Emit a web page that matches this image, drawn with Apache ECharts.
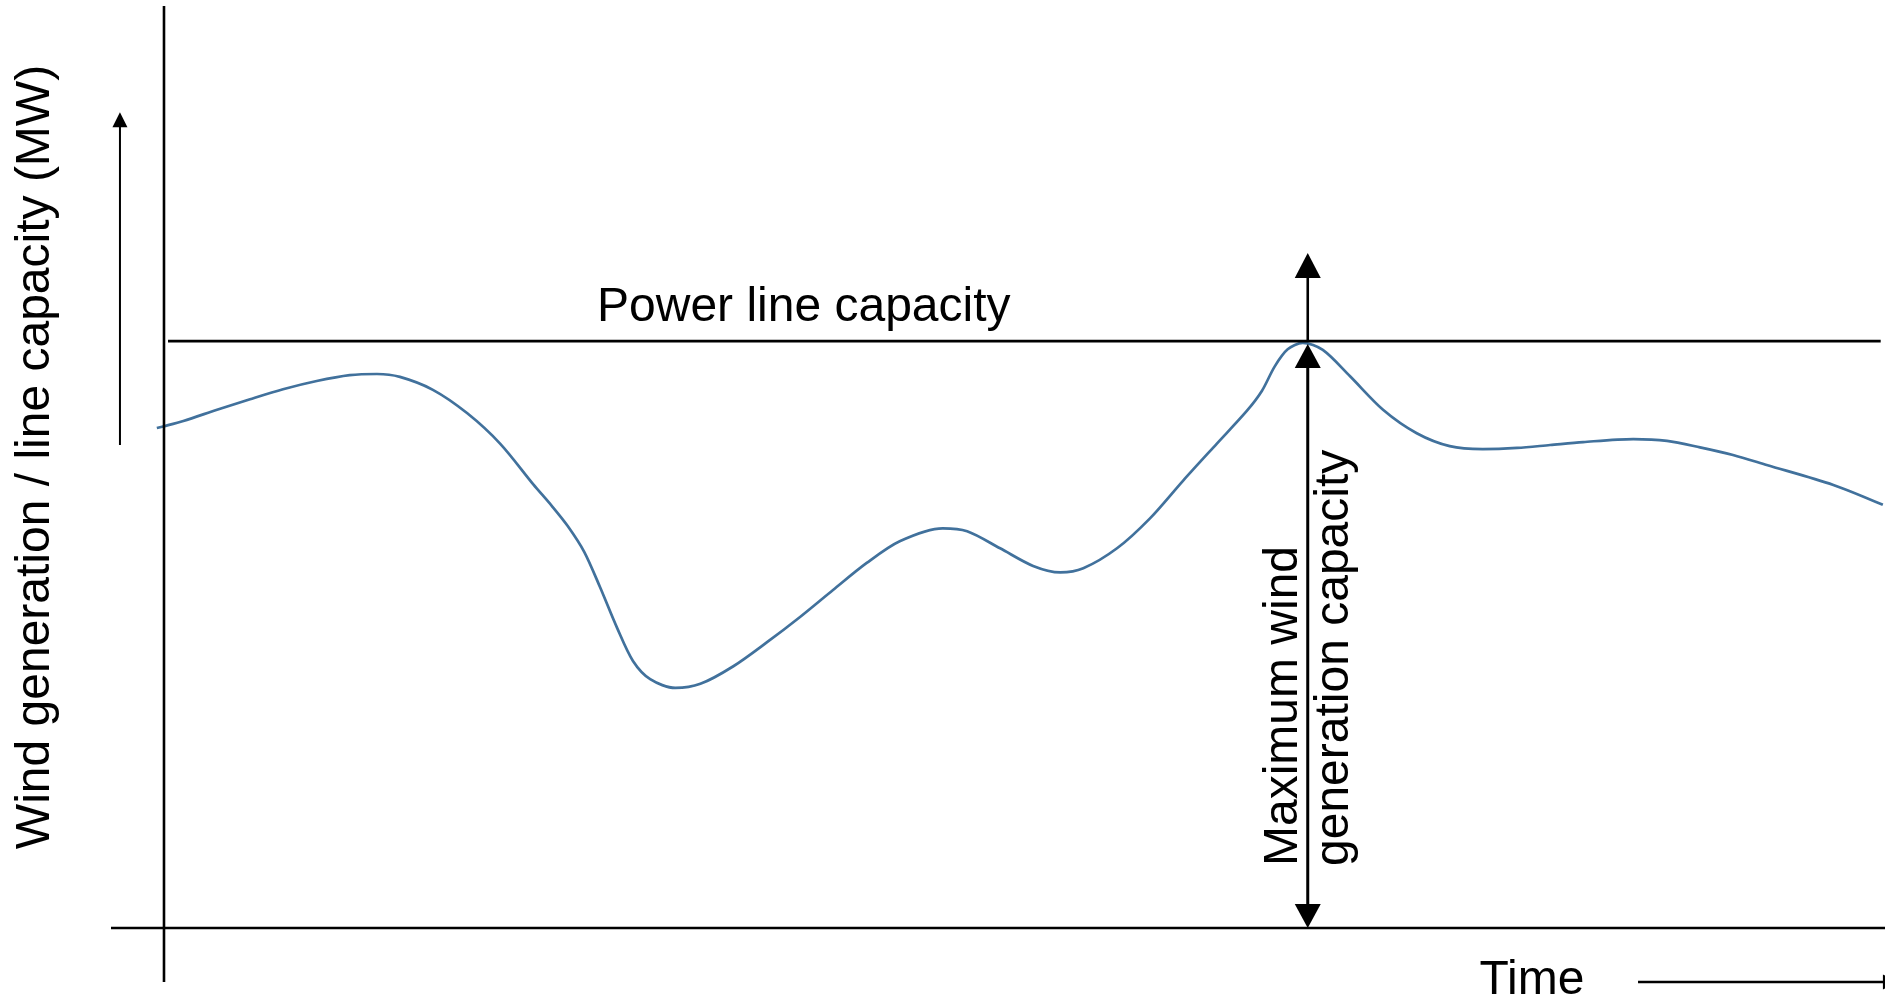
<!DOCTYPE html>
<html>
<head>
<meta charset="utf-8">
<script src="https://cdn.jsdelivr.net/npm/echarts@6/dist/echarts.min.js"></script>
<style>
html, body { margin: 0; padding: 0; background: #fff; }
#chart { width: 1885px; height: 1006px; }
</style>
</head>
<body>
<div id="chart"></div>
<script>
// ---- data (time in hours, power in MW) ----
const timeH = [-0.10, 0, 0.27, 0.74, 1.20, 1.66, 2.13, 2.59, 2.97, 3.29,
  3.75, 4.23, 4.69, 5.15, 5.41, 5.63, 5.86, 6.08, 6.32, 6.54,
  6.78, 7.13, 7.48, 7.94, 8.41, 8.87, 9.33, 9.80, 10.26, 10.86,
  11.20, 11.66, 12.12, 12.50, 12.82, 13.29, 13.75, 14.21, 14.68, 15.10,
  15.31, 15.49, 15.67, 15.88, 16.16, 16.54, 17.00, 17.47, 17.93, 18.39,
  18.87, 19.33, 19.79, 20.49, 20.96, 21.42, 21.88, 22.35, 23.28, 23.97];
const windMW = [85.2, 85.5, 86.4, 88.3, 90.1, 91.8, 93.2, 94.2, 94.4, 93.9,
  91.7, 87.7, 82.5, 75.6, 71.9, 68.5, 64.1, 58.1, 51.1, 45.5,
  42.4, 40.9, 41.6, 44.6, 48.7, 53.0, 57.6, 62.2, 65.9, 68.1,
  67.6, 64.7, 61.7, 60.6, 61.3, 64.7, 69.8, 76.2, 82.5, 88.1,
  91.5, 95.7, 98.6, 99.7, 98.5, 94.0, 88.3, 84.3, 82.1, 81.6,
  81.8, 82.3, 82.8, 83.3, 83.0, 81.9, 80.6, 78.9, 75.5, 72.1];
const lineCapacityMW = 100;
const peakTimeH = 15.95;

// ---- axis extents ----
const X_MIN = -0.739, X_MAX = 24.0;
const Y_MIN = -9.2, Y_MAX = 157.1;

// ---- annotation segments in data space ----
const segments = [
  // plain lines
  { from: [0, Y_MIN], to: [0, Y_MAX], head: 'none', lw: 2.6 },                 // vertical axis
  { from: [X_MIN, 0], to: [X_MAX, 0], head: 'none', lw: 2.6 },                 // zero line
  { from: [0.056, lineCapacityMW], to: [23.94, lineCapacityMW], head: 'none', lw: 2.6 }, // capacity
  // arrows
  { from: [-0.614, 82.3], to: [-0.614, 139.0], head: 'end', hw: 15, hl: 15, lw: 2 },
  { from: [peakTimeH, lineCapacityMW], to: [peakTimeH, 115.0], head: 'end', hw: 26, hl: 25, lw: 2.6 },
  { from: [peakTimeH, 0], to: [peakTimeH, 99.5], head: 'both', hw: 26, hl: 24, lw: 3 },
  { from: [20.556, Y_MIN], to: [24.18, Y_MIN], head: 'end', hw: 15, hl: 15, lw: 2.4 }
];

const FONT = '"Liberation Sans", Arial, Helvetica, sans-serif';
const FS = 48;

const chart = echarts.init(document.getElementById('chart'), null, { renderer: 'canvas' });

function txt(text, x, y, rot, align, valign) {
  return {
    type: 'text', x: x, y: y, rotation: rot, z: 100,
    style: {
      text: text, fontSize: FS, fontFamily: FONT, fill: '#000',
      align: align, textAlign: align, verticalAlign: valign, textVerticalAlign: valign
    }
  };
}

chart.setOption({
  animation: false,
  backgroundColor: '#fff',
  grid: { left: 111, right: 0, top: 6, bottom: 24 },
  xAxis: { type: 'value', min: X_MIN, max: X_MAX, show: false },
  yAxis: { type: 'value', min: Y_MIN, max: Y_MAX, show: false },
  series: [
    {
      type: 'line',
      data: timeH.map((t, i) => [t, windMW[i]]),
      smooth: 0.3,
      showSymbol: false,
      lineStyle: { color: '#41719C', width: 2.7 },
      clip: false,
      z: 2
    },
    {
      type: 'custom',
      clip: false,
      z: 3,
      data: segments.map(s => [s.from[0], s.from[1], s.to[0], s.to[1]]),
      renderItem: function (params, api) {
        const s = segments[params.dataIndex];
        const p1 = api.coord([api.value(0), api.value(1)]);
        const p2 = api.coord([api.value(2), api.value(3)]);
        const dx = p2[0] - p1[0], dy = p2[1] - p1[1];
        const len = Math.hypot(dx, dy) || 1;
        const ux = dx / len, uy = dy / len;
        let a = p1.slice(), b = p2.slice();
        const children = [];
        function head(tip, dxu, dyu) {
          const bx = tip[0] - dxu * s.hl, by = tip[1] - dyu * s.hl;
          const px = -dyu * s.hw / 2, py = dxu * s.hw / 2;
          return { type: 'polygon', shape: { points: [[tip[0], tip[1]], [bx + px, by + py], [bx - px, by - py]] },
                   style: { fill: '#000' } };
        }
        if (s.head === 'end' || s.head === 'both') {
          children.push(head(p2, ux, uy));
          b = [p2[0] - ux * s.hl * 0.8, p2[1] - uy * s.hl * 0.8];
        }
        if (s.head === 'both') {
          children.push(head(p1, -ux, -uy));
          a = [p1[0] + ux * s.hl * 0.8, p1[1] + uy * s.hl * 0.8];
        }
        children.unshift({ type: 'line', shape: { x1: a[0], y1: a[1], x2: b[0], y2: b[1] },
                           style: { stroke: '#000', lineWidth: s.lw } });
        return { type: 'group', children: children };
      }
    }
  ],
  graphic: [
    txt('Power line capacity', 597, 308, 0, 'left', 'middle'),
    txt('Wind generation / line capacity (MW)', 36, 457, Math.PI / 2, 'center', 'middle'),
    txt('Maximum wind', 1284, 866, Math.PI / 2, 'left', 'middle'),
    txt('generation capacity', 1335, 866, Math.PI / 2, 'left', 'middle'),
    txt('Time', 1532, 981, 0, 'center', 'middle')
  ]
});
</script>
</body>
</html>
